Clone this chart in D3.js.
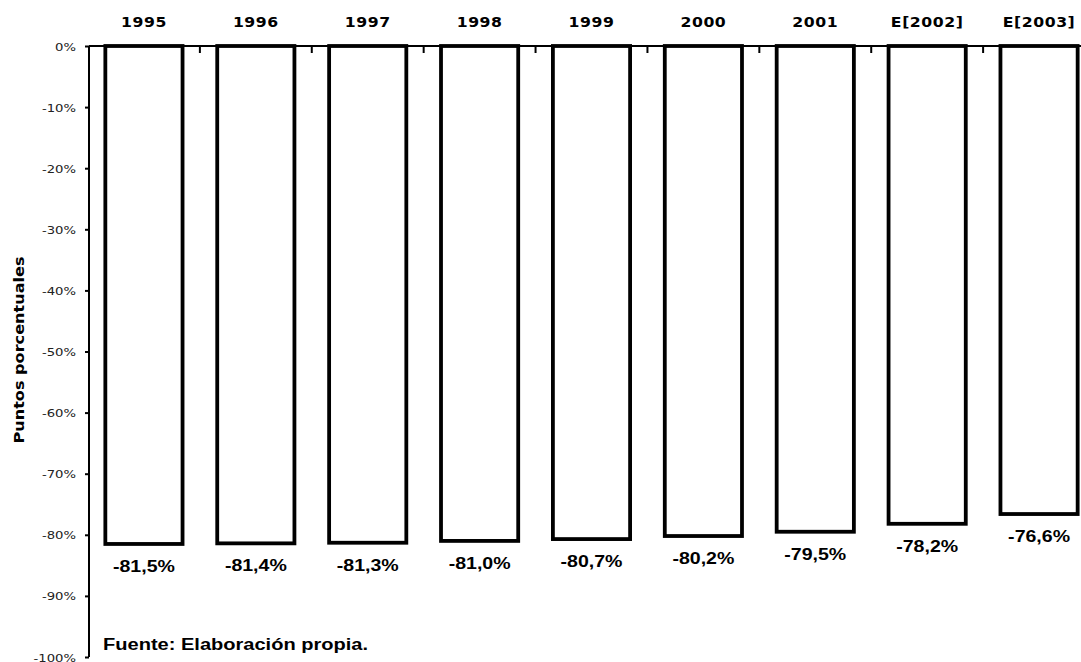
<!DOCTYPE html>
<html><head><meta charset="utf-8">
<script src="https://cdn.jsdelivr.net/npm/d3@7"></script>
<style>
html,body{margin:0;padding:0;background:#fff;overflow:hidden}
svg{display:block}
</style></head>
<body>
<svg id="chart" width="1081" height="662"></svg>
<script>
const categories = ["1995","1996","1997","1998","1999","2000","2001","E[2002]","E[2003]"];
const values = [-81.5,-81.4,-81.3,-81.0,-80.7,-80.2,-79.5,-78.2,-76.6];
const yTicks = [0,-10,-20,-30,-40,-50,-60,-70,-80,-90,-100];
const yTitle = "Puntos porcentuales";
const source = "Fuente: Elaboración propia.";

const svg = d3.select("#chart");
const x = d3.scaleBand().domain(categories).range([88, 1095]).paddingInner(0.31).paddingOuter(0.155);
const y = d3.scaleLinear().domain([0,-100]).range([46, 657]);

// bars
svg.append("g").selectAll("rect").data(values).join("rect")
  .attr("x", (d,i)=>x(categories[i]))
  .attr("y", y(0))
  .attr("width", x.bandwidth())
  .attr("height", d=>y(d)-y(0))
  .attr("fill","#fff").attr("stroke","#000").attr("stroke-width",3.8);

// y axis
const yAxis = svg.append("g").attr("transform","translate(89,0)")
  .call(d3.axisLeft(y).tickValues(yTicks).tickSize(4).tickPadding(0).tickFormat(d=>d+"%"));
yAxis.select(".domain").attr("stroke","#000").attr("stroke-width",2).attr("d","M0,"+y(0)+"V"+y(-100));
yAxis.selectAll(".tick line").attr("stroke","#000").attr("stroke-width",2);
yAxis.selectAll(".tick text").remove();
yAxis.selectAll(".tick").append("text")
  .attr("transform","translate(-13,4) scale(1.2,1)")
  .attr("text-anchor","end")
  .attr("fill","#222")
  .style("font-family","'DejaVu Sans',Verdana,sans-serif")
  .style("font-size","11px")
  .text(d=>d+"%");

// top x axis
const xAxis = svg.append("g").attr("transform","translate(0,"+y(0)+")");
xAxis.append("line").attr("x1",89).attr("x2",1081).attr("y1",0).attr("y2",0)
  .attr("stroke","#000").attr("stroke-width",2);
const step = x.step();
const bounds = categories.map(c=>x(c)-x.paddingOuter()*step+step).slice(0,-1);
xAxis.selectAll("line.tk").data(bounds).join("line").attr("class","tk")
  .attr("x1",d=>d).attr("x2",d=>d).attr("y1",0).attr("y2",7)
  .attr("stroke","#000").attr("stroke-width",2);

svg.append("g").selectAll("text").data(categories).join("text")
  .attr("transform",d=>"translate("+(x(d)+x.bandwidth()/2)+",27) scale(1.12,1)")
  .attr("text-anchor","middle")
  .style("font-family","'DejaVu Sans',Verdana,sans-serif")
  .style("font-weight","bold").style("font-size","14px")
  .style("letter-spacing","0.5px")
  .text(d=>d);

// value labels
svg.append("g").selectAll("text").data(values).join("text")
  .attr("transform",(d,i)=>"translate("+(x(categories[i])+x.bandwidth()/2)+","+(y(d)+28)+") scale(1.15,1)")
  .attr("text-anchor","middle")
  .style("font-family","'Liberation Sans',Arial,sans-serif")
  .style("font-weight","bold").style("font-size","17px")
  .text(d=>d.toFixed(1).replace(".",",")+"%");

// y title
svg.append("text")
  .attr("transform","translate(24,350) rotate(-90) scale(1.15,1)")
  .attr("text-anchor","middle")
  .style("font-family","'DejaVu Sans',Verdana,sans-serif")
  .style("font-weight","bold").style("font-size","14px")
  .text(yTitle);

// source
svg.append("text")
  .attr("transform","translate(103,650) scale(1.18,1)")
  .style("font-family","'Liberation Sans',Arial,sans-serif")
  .style("font-weight","bold").style("font-size","17px")
  .text(source);
</script>
</body></html>
